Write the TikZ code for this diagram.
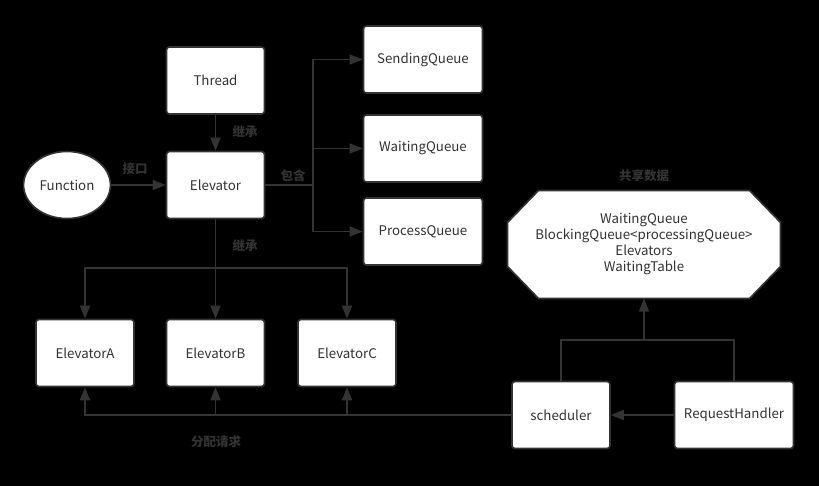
\documentclass[tikz,border=0pt]{standalone}
\usepackage{fontspec}
\setmainfont{Noto Sans CJK SC}
\usetikzlibrary{arrows.meta,shapes.geometric}
\definecolor{linegray}{HTML}{333333}

\begin{document}
\begin{tikzpicture}[x=1pt, y=-1pt,
    box/.style={draw=linegray, line width=1.6pt, fill=white, rounded corners=3pt,
        minimum width=98pt, minimum height=67pt, text=linegray,
        font=\fontsize{13.3}{16}\selectfont},
    widebox/.style={box, minimum width=119pt},
    lbl/.style={text=linegray, font=\fontsize{12.5}{15}\selectfont\bfseries},
    line/.style={draw=linegray, line width=1.6pt},
    arr/.style={line, -{Triangle[length=13pt, width=10pt]}}]
    \fill [black] (0,0) rectangle (819,486);
    % top part
    \node [box] (thread) at (215.5,80.5) {Thread};
    \node [box] (elev) at (215.5,185) {Elevator};
    \node [box, ellipse, rounded corners=0pt, minimum width=81pt, minimum height=67pt] (func) at (67,185) {Function};
    \node [widebox] (sq) at (423,59.5) {SendingQueue};
    \node [widebox] (wq) at (423,148.5) {WaitingQueue};
    \node [widebox] (pq) at (423,231.5) {ProcessQueue};
    % elevators
    \node [box] (ea) at (85,353) {ElevatorA};
    \node [box] (eb) at (215.5,353) {ElevatorB};
    \node [box] (ec) at (347,353) {ElevatorC};
    % right part
    \node [box] (sch) at (561,415) {scheduler};
    \node [widebox] (rh) at (734,415) {RequestHandler};
    % shared data octagon
    \node [minimum width=273pt, minimum height=108pt, outer sep=0pt] (shared) at (644,244.5) {};
    \draw [line, fill=white] ([xshift=31pt]shared.north west) -- ([xshift=-31pt]shared.north east)
        -- ([yshift=-32pt]shared.north east) -- ([yshift=32pt]shared.south east)
        -- ([xshift=-31pt]shared.south east) -- ([xshift=31pt]shared.south west)
        -- ([yshift=32pt]shared.south west) -- ([yshift=-32pt]shared.north west) -- cycle;
    \node [text=linegray, font=\fontsize{13.3}{16}\selectfont, align=center] (sharedtext) at (shared.center)
        {WaitingQueue\\BlockingQueue<processingQueue>\\Elevators\\WaitingTable};
    \coordinate (br) at (313,185);
    \coordinate (dist) at (215.5,268);
    \coordinate (up) at (644,340);
    % connectors
    \draw [arr] (thread) -- (elev);
    \draw [arr] (func) -- (elev);
    \draw [line] (elev) -- (br);
    \draw [arr] (br) |- (sq);
    \draw [arr] (br) |- (wq);
    \draw [arr] (br) |- (pq);
    \draw [arr] (elev) -- (eb);
    \draw [arr] (dist) -| (ea);
    \draw [arr] (dist) -| (ec);
    \draw [arr] (sch.west) -| (ea.south);
    \draw [arr] (sch.west) -| (eb.south);
    \draw [arr] (sch.west) -| (ec.south);
    \draw [arr] (rh) -- (sch);
    \draw [line] (sch.north) |- (up) -| (rh.north);
    \draw [arr] (up) -- (shared.south);
    % labels
    \node [lbl] (l1) at (245,132) {继承};
    \node [lbl] (l2) at (135,169) {接口};
    \node [lbl] (l3) at (293,176) {包含};
    \node [lbl] (l4) at (245,246) {继承};
    \node [lbl] (l5) at (216,442) {分配请求};
    \node [lbl] (l6) at (644,176) {共享数据};
\end{tikzpicture}
\end{document}
